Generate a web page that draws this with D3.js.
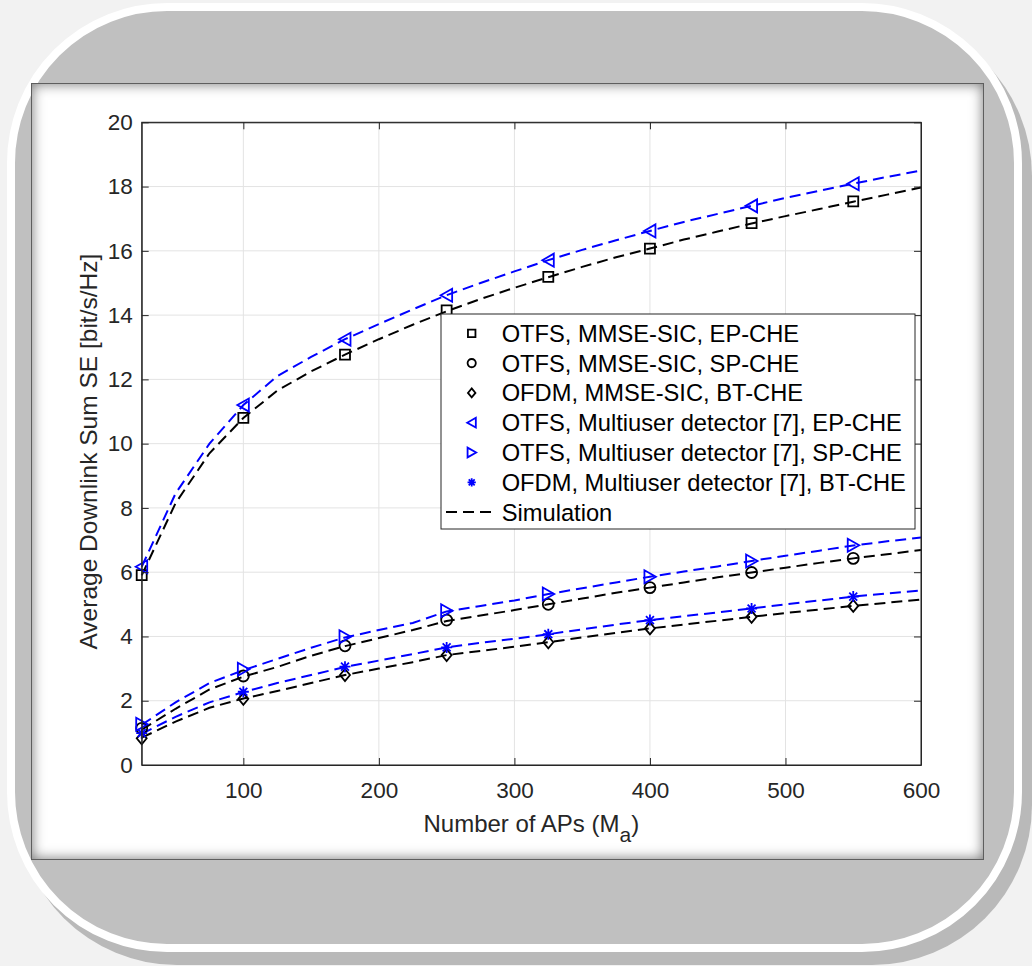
<!DOCTYPE html>
<html>
<head>
<meta charset="utf-8">
<script src="https://cdn.jsdelivr.net/npm/d3@7"></script>
<style>
  html, body { margin: 0; padding: 0; width: 1032px; height: 966px; overflow: hidden; background: #f2f2f2; position: relative; }
  .card { position: absolute; left: 7px; top: 3px; width: 999px; height: 933px; border: 8px solid #ffffff; border-radius: 160px; background: #c0c0c0; box-shadow: 10px 13px 0 #b9b9b9; }
  .panel { position: absolute; left: 31px; top: 83px; width: 951px; height: 775px; background: #ffffff; border: 1px solid #5e5e5e; box-shadow: inset 0 0 13px rgba(0,0,0,0.55); }
  svg { position: absolute; left: 0; top: 0; }
  text { font-family: "Liberation Sans", Arial, Helvetica, sans-serif; fill: #262626; }
</style>
</head>
<body>
<script>
// x positions (number of APs) for the analytical markers and for the simulated curves
const markerX = [25, 100, 175, 250, 325, 400, 475, 550];
const simX = [25, 50, 75, 100, 125, 150, 175, 200, 225, 250, 275, 300, 325, 350, 375, 400, 425, 450, 475, 500, 525, 550, 575, 600];

// analytical results (markers)
const otfsMmseEp  = [5.91, 10.8, 12.77, 14.15, 15.19, 16.07, 16.86, 17.54];
const otfsMmseSp  = [1.14, 2.77, 3.71, 4.51, 5.0, 5.52, 5.99, 6.43];
const ofdmMmseBt  = [0.83, 2.06, 2.8, 3.42, 3.82, 4.25, 4.61, 4.95];
const otfsMudEp   = [6.17, 11.2, 13.25, 14.62, 15.71, 16.62, 17.4, 18.09];
const otfsMudSp   = [1.27, 2.98, 3.99, 4.8, 5.32, 5.86, 6.35, 6.84];
const ofdmMudBt   = [0.99, 2.28, 3.06, 3.66, 4.07, 4.51, 4.87, 5.24];

// simulation results (dashed curves)
const simOtfsMmseEp = [5.9, 8.15, 9.7, 10.8, 11.65, 12.25, 12.77, 13.25, 13.7, 14.12, 14.5, 14.85, 15.18, 15.5, 15.8, 16.07, 16.35, 16.6, 16.85, 17.08, 17.3, 17.53, 17.75, 17.97];
const simOtfsMudEp  = [6.17, 8.45, 10.0, 11.2, 12.1, 12.7, 13.25, 13.72, 14.18, 14.62, 15.0, 15.36, 15.71, 16.03, 16.33, 16.62, 16.9, 17.15, 17.4, 17.65, 17.87, 18.09, 18.3, 18.5];
const simOtfsMmseSp = [1.1, 1.75, 2.35, 2.75, 3.05, 3.4, 3.7, 3.95, 4.2, 4.48, 4.65, 4.82, 5.0, 5.18, 5.36, 5.52, 5.68, 5.84, 5.99, 6.14, 6.29, 6.43, 6.56, 6.69];
const simOtfsMudSp  = [1.25, 1.95, 2.55, 2.95, 3.3, 3.65, 3.97, 4.2, 4.42, 4.78, 4.95, 5.12, 5.32, 5.5, 5.68, 5.86, 6.02, 6.18, 6.35, 6.51, 6.67, 6.83, 6.96, 7.08];
const simOfdmMmseBt = [0.85, 1.35, 1.78, 2.07, 2.3, 2.55, 2.8, 3.0, 3.2, 3.42, 3.55, 3.68, 3.82, 3.97, 4.11, 4.25, 4.37, 4.49, 4.61, 4.73, 4.84, 4.95, 5.05, 5.15];
const simOfdmMudBt  = [0.97, 1.5, 1.95, 2.27, 2.55, 2.8, 3.05, 3.25, 3.45, 3.66, 3.8, 3.93, 4.07, 4.22, 4.37, 4.51, 4.63, 4.75, 4.87, 5.0, 5.12, 5.24, 5.34, 5.43];

const xTicks = [100, 200, 300, 400, 500, 600];
const yTicks = [0, 2, 4, 6, 8, 10, 12, 14, 16, 18, 20];

const legendLabels = [
  "OTFS, MMSE-SIC, EP-CHE",
  "OTFS, MMSE-SIC, SP-CHE",
  "OFDM, MMSE-SIC, BT-CHE",
  "OTFS, Multiuser detector [7], EP-CHE",
  "OTFS, Multiuser detector [7], SP-CHE",
  "OFDM, Multiuser detector [7], BT-CHE",
  "Simulation"
];

const BLUE = "#0000ff", BLACK = "#000000";

const markerSeries = [
  { values: otfsMmseEp, shape: "square",   color: BLACK },
  { values: otfsMmseSp, shape: "circle",   color: BLACK },
  { values: ofdmMmseBt, shape: "diamond",  color: BLACK },
  { values: otfsMudEp,  shape: "triLeft",  color: BLUE },
  { values: otfsMudSp,  shape: "triRight", color: BLUE },
  { values: ofdmMudBt,  shape: "star",     color: BLUE }
];
const simSeries = [
  { values: simOtfsMmseEp, color: BLACK },
  { values: simOtfsMudEp,  color: BLUE },
  { values: simOtfsMmseSp, color: BLACK },
  { values: simOtfsMudSp,  color: BLUE },
  { values: simOfdmMmseBt, color: BLACK },
  { values: simOfdmMudBt,  color: BLUE }
];

const FONT = '"Liberation Sans", Arial, Helvetica, sans-serif';

// decorative card and inner panel
const body = d3.select("body");
body.append("div").attr("class", "card");
body.append("div").attr("class", "panel");

const svg = body.append("svg").attr("width", 1032).attr("height", 966);

const L = 141.7, R = 921, T = 122.3, B = 765;
const x = d3.scaleLinear().domain([25, 600]).range([L, R]);
const y = d3.scaleLinear().domain([0, 20]).range([B, T]);

// grid
const grid = svg.append("g").attr("stroke", "#e3e3e3").attr("stroke-width", 1);
grid.selectAll("line.gx").data(xTicks).join("line")
  .attr("x1", d => x(d)).attr("x2", d => x(d)).attr("y1", T).attr("y2", B);
grid.selectAll("line.gy").data(yTicks).join("line")
  .attr("x1", L).attr("x2", R).attr("y1", d => y(d)).attr("y2", d => y(d));

// simulated curves
const line = d3.line().x((d, i) => x(simX[i])).y(d => y(d));
svg.append("g").selectAll("path").data(simSeries).join("path")
  .attr("d", d => line(d.values))
  .attr("fill", "none")
  .attr("stroke", d => d.color)
  .attr("stroke-width", 2)
  .attr("stroke-dasharray", "11,6");

// marker shapes
function shapePath(shape, s) {
  switch (shape) {
    case "square":   return `M${-5*s},${-5*s}h${10*s}v${10*s}h${-10*s}Z`;
    case "circle":   return `M${5.5*s},0A${5.5*s},${5.5*s} 0 1,1 ${-5.5*s},0A${5.5*s},${5.5*s} 0 1,1 ${5.5*s},0Z`;
    case "diamond":  return `M0,${-6*s}L${5*s},0L0,${6*s}L${-5*s},0Z`;
    case "triLeft":  return `M${-6*s},0L${5.5*s},${-6.5*s}L${5.5*s},${6.5*s}Z`;
    case "triRight": return `M${6*s},0L${-5.5*s},${-6.5*s}L${-5.5*s},${6.5*s}Z`;
    case "star": {
      const r = 5.5 * s, q = r * 0.72;
      return `M${-r},0H${r}M0,${-r}V${r}M${-q},${-q}L${q},${q}M${-q},${q}L${q},${-q}`;
    }
  }
}

const mg = svg.append("g");
markerSeries.forEach(ser => {
  mg.append("g").selectAll("path").data(ser.values).join("path")
    .attr("transform", (d, i) => `translate(${x(markerX[i])},${y(d)})`)
    .attr("d", shapePath(ser.shape, 1))
    .attr("fill", "none")
    .attr("stroke", ser.color)
    .attr("stroke-width", 1.8);
});

// axes
const axColor = "#262626";
function styleAxis(g) {
  g.select(".domain").attr("stroke", axColor).attr("stroke-width", 1);
  g.selectAll(".tick line").attr("stroke", axColor).attr("stroke-width", 1);
  g.selectAll(".tick text").attr("fill", axColor).style("font-size", "22.5px").style("font-family", FONT);
}
svg.append("g").attr("transform", `translate(0,${B})`)
  .call(d3.axisBottom(x).tickValues(xTicks).tickSizeInner(-7).tickSizeOuter(0).tickPadding(17))
  .call(styleAxis);
svg.append("g").attr("transform", `translate(0,${T})`)
  .call(d3.axisTop(x).tickValues(xTicks).tickSizeInner(-7).tickSizeOuter(0).tickFormat(""))
  .call(styleAxis);
svg.append("g").attr("transform", `translate(${L},0)`)
  .call(d3.axisLeft(y).tickValues(yTicks).tickSizeInner(-7).tickSizeOuter(0).tickPadding(9))
  .call(styleAxis);
svg.append("g").attr("transform", `translate(${R},0)`)
  .call(d3.axisRight(y).tickValues(yTicks).tickSizeInner(-7).tickSizeOuter(0).tickFormat(""))
  .call(styleAxis);
// box edges
svg.append("rect").attr("x", L).attr("y", T).attr("width", R - L).attr("height", B - T)
  .attr("fill", "none").attr("stroke", axColor).attr("stroke-width", 1);

// axis labels
svg.append("text")
  .attr("transform", `translate(88,${(T + B) / 2 + 8}) rotate(-90)`)
  .attr("text-anchor", "middle").attr("dy", "0.35em")
  .style("font-size", "24.5px")
  .text("Average Downlink Sum SE [bit/s/Hz]");

const xl = svg.append("text")
  .attr("x", (L + R) / 2).attr("y", 832)
  .attr("text-anchor", "middle")
  .style("font-size", "24px");
xl.append("tspan").text("Number of APs (M");
xl.append("tspan").attr("dy", 10).style("font-size", "21px").text("a");
xl.append("tspan").attr("dy", -10).text(")");

// legend
const lg = svg.append("g");
lg.append("rect").attr("x", 441).attr("y", 314).attr("width", 474).attr("height", 215)
  .attr("fill", "#fff").attr("stroke", axColor).attr("stroke-width", 1);
const rowY = i => 333.3 + i * 29.8;
markerSeries.forEach((ser, i) => {
  lg.append("path")
    .attr("transform", `translate(471.7,${rowY(i)})`)
    .attr("d", shapePath(ser.shape, 0.75))
    .attr("fill", "none").attr("stroke", ser.color).attr("stroke-width", 1.8);
});
lg.append("line").attr("x1", 446).attr("x2", 497).attr("y1", rowY(6)).attr("y2", rowY(6))
  .attr("stroke", BLACK).attr("stroke-width", 2).attr("stroke-dasharray", "11,6");
lg.selectAll("text").data(legendLabels).join("text")
  .attr("x", 501.7).attr("y", (d, i) => rowY(i)).attr("dy", "0.36em")
  .style("font-size", "23.7px").style("fill", "#000")
  .text(d => d);
</script>
</body>
</html>
